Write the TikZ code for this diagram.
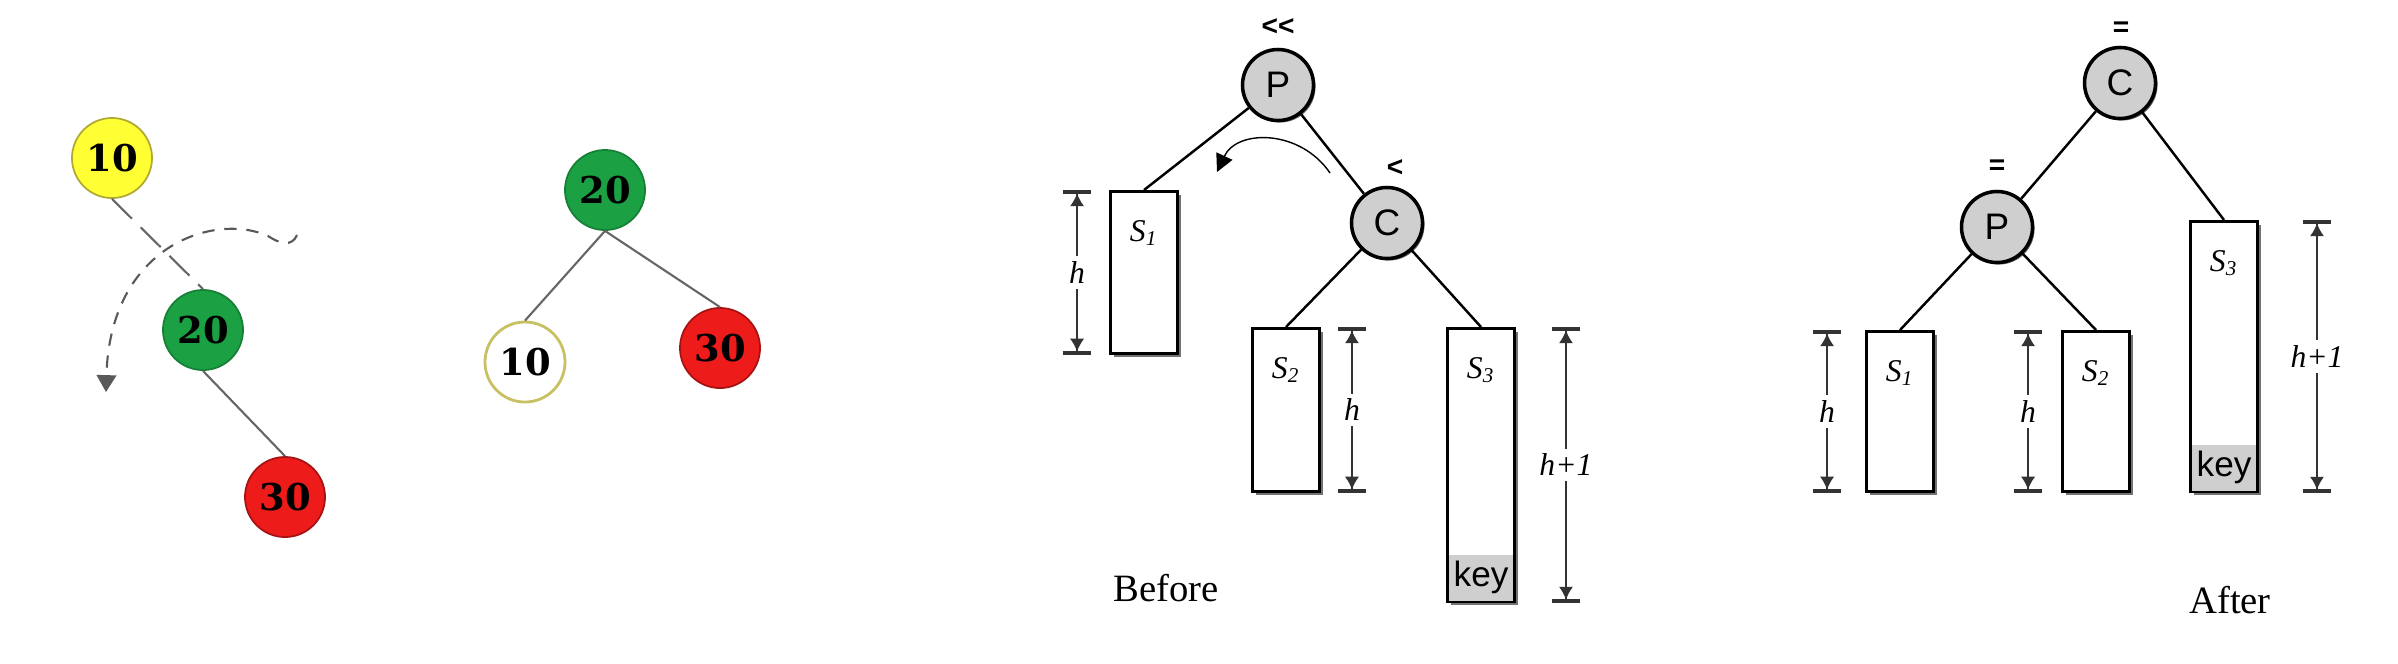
\documentclass[tikz,border=0pt]{standalone}
\usepackage{fontspec}
\setmainfont{Liberation Serif}
\setsansfont{Liberation Sans}
\newfontfamily\digitfont{DejaVu Serif}
\usetikzlibrary{arrows.meta, positioning, calc, shadows}
\definecolor{rbyellow}{HTML}{FFFF33}
\definecolor{rbgreen}{HTML}{1BA043}
\definecolor{rbred}{HTML}{EE1B1B}
\definecolor{avlgray}{HTML}{CFCFCF}
\tikzset{
    rotation/.style={x=0.01cm, y=-0.01cm, >=Stealth},
    rbnode/.style={draw, circle, minimum size=0.8cm, inner sep=0pt, line width=0.5pt,
        font=\digitfont\bfseries\fontsize{10.5}{10.5}\selectfont},
    rbedge/.style={draw=black!60, line width=0.6pt},
    avlnode/.style={draw, circle, fill=avlgray, line width=1pt, minimum size=0.71cm, inner sep=0pt,
        font=\sffamily\fontsize{10.5}{10.5}\selectfont,
        drop shadow={shadow xshift=0.02cm, shadow yshift=-0.02cm, fill=black!60, opacity=1}},
    avledge/.style={draw=black, line width=0.7pt},
    subtree/.style={draw, fill=white, line width=0.8pt, minimum width=0.67cm, inner sep=0pt, anchor=north,
        drop shadow={shadow xshift=0.035cm, shadow yshift=-0.035cm, fill=black!55, opacity=1}},
    treename/.style={inner sep=0pt, font=\itshape\fontsize{9}{9}\selectfont},
    keybox/.style={fill=avlgray, minimum width=0.64cm, minimum height=0.46cm, inner sep=0pt,
        font=\sffamily\fontsize{10}{10}\selectfont},
    balance/.style={inner sep=0pt, font=\sffamily\bfseries\fontsize{8}{8}\selectfont},
    % height bars beside the subtrees
    dimline/.style={draw=black!80, line width=0.35pt,
        {Bar[width=8pt,line width=1pt]Latex[length=3.6pt,width=4pt]}-{Latex[length=3.6pt,width=4pt]Bar[width=8pt,line width=1pt]}},
    dimlabel/.style={fill=white, inner sep=1.5pt, font=\itshape\fontsize{9}{9}\selectfont},
    caption/.style={font=\fontsize{11}{11}\selectfont},
}
\begin{document}
\begin{tikzpicture}[rotation]
    \useasboundingbox (0,0) rectangle (2398,663);

    % 10 - 20 - 30, rotated left
    \node[rbnode, fill=rbyellow, draw=olive!70] (l10) at (112,158) {10};
    \node[rbnode, fill=rbgreen, draw=rbgreen!80!black] (l20) at (203,330) {20};
    \node[rbnode, fill=rbred, draw=rbred!70!black] (l30) at (285,497) {30};
    \draw[rbedge, dash pattern=on 8pt off 3.5pt] (l10.south) -- (l20.north);
    \draw[rbedge] (l20.south) -- (l30.north);
    \coordinate (spinfrom) at (297,235);
    \coordinate (spinto)   at (106,392);
    \draw[draw=black!65, line width=0.6pt, dash pattern=on 3.5pt off 2.8pt,
          -{Triangle[length=4.8pt,width=5.6pt]}]
        (spinfrom) .. controls (292,247) and (280,244) .. (268,236)
        .. controls (215,212) and (110,245) .. (spinto);

    \node[rbnode, fill=rbgreen, draw=rbgreen!80!black] (m20) at (605,190) {20};
    \node[rbnode, fill=white, draw=olive!50, line width=0.8pt] (m10) at (525,362) {10};
    \node[rbnode, fill=rbred, draw=rbred!70!black] (m30) at (720,348) {30};
    \draw[rbedge] (m20.south) -- (m10.north);
    \draw[rbedge] (m20.south) -- (m30.north);

    % before
    \node[avlnode] (bP) at (1278,85) {P};
    \node[avlnode] (bC) at (1387,223) {C};
    \node[balance] (bPbal) at (1278,27) {{<}{<}};
    \node[balance] (bCbal) at (1395,168) {<};
    \node[subtree, minimum height=1.62cm] (bS1) at (1144,190) {};
    \node[subtree, minimum height=1.63cm] (bS2) at (1286,327) {};
    \node[subtree, minimum height=2.73cm] (bS3) at (1481,327) {};
    \node[keybox, above=0.4pt of bS3.south] (bkey) {key};
    \node[treename, below=0.3cm of bS1.north] (bS1name) {S\textsubscript{1}};
    \node[treename, below=0.3cm of bS2.north] (bS2name) {S\textsubscript{2}};
    \node[treename, below=0.3cm of bS3.north] (bS3name) {S\textsubscript{3}};

    \draw[avledge] (bP) -- (bS1.north);
    \draw[avledge] (bP) -- (bC);
    \draw[avledge] (bC) -- (bS2.north);
    \draw[avledge] (bC) -- (bS3.north);

    \coordinate (turnfrom) at (1330,173);
    \coordinate (turnto)   at (1217,172);
    \draw[line width=0.4pt, -{Triangle[length=5pt,width=5pt]}]
        (turnfrom) .. controls (1300,129) and (1237,129) .. (turnto);

    \draw[dimline] ([xshift=-0.32cm]bS1.north west) -- node[dimlabel] {h} ([xshift=-0.32cm]bS1.south west);
    \draw[dimline] ([xshift=0.31cm]bS2.north east) -- node[dimlabel] {h} ([xshift=0.31cm]bS2.south east);
    \draw[dimline] ([xshift=0.5cm]bS3.north east) -- node[dimlabel] {h+1} ([xshift=0.5cm]bS3.south east);
    \node[caption] (before) at (1166,588) {Before};

    % after
    \node[avlnode] (aC) at (2120,83) {C};
    \node[avlnode] (aP) at (1997,227) {P};
    \node[balance] (aCbal) at (2121,29) {=};
    \node[balance] (aPbal) at (1997,167) {=};
    \node[subtree, minimum height=1.60cm] (aS1) at (1900,330) {};
    \node[subtree, minimum height=1.60cm] (aS2) at (2096,330) {};
    \node[subtree, minimum height=2.70cm] (aS3) at (2224,220) {};
    \node[keybox, above=0.4pt of aS3.south] (akey) {key};
    \node[treename, below=0.3cm of aS1.north] (aS1name) {S\textsubscript{1}};
    \node[treename, below=0.3cm of aS2.north] (aS2name) {S\textsubscript{2}};
    \node[treename, below=0.3cm of aS3.north] (aS3name) {S\textsubscript{3}};

    \draw[avledge] (aC) -- (aP);
    \draw[avledge] (aC) -- (aS3.north);
    \draw[avledge] (aP) -- (aS1.north);
    \draw[avledge] (aP) -- (aS2.north);

    \draw[dimline] ([xshift=-0.38cm]aS1.north west) -- node[dimlabel] {h} ([xshift=-0.38cm]aS1.south west);
    \draw[dimline] ([xshift=-0.33cm]aS2.north west) -- node[dimlabel] {h} ([xshift=-0.33cm]aS2.south west);
    \draw[dimline] ([xshift=0.58cm]aS3.north east) -- node[dimlabel] {h+1} ([xshift=0.58cm]aS3.south east);
    \node[caption] (after) at (2230,600) {After};
\end{tikzpicture}
\end{document}
